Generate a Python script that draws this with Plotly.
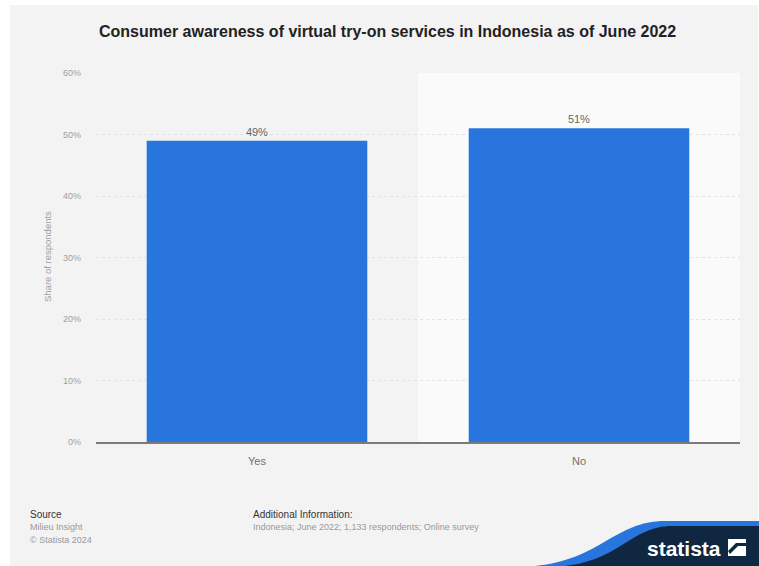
import plotly.graph_objects as go

# Survey answers and their shares (percent)
categories = ["Yes", "No"]
shares = [49, 51]
tick_values = [0, 10, 20, 30, 40, 50, 60]
tick_labels = ["0%", "10%", "20%", "30%", "40%", "50%", "60%"]

W, H = 759, 566
L, R, T, B = 96, 740, 73, 442  # plot area in pixels


def px(x):
    return (x - L) / (R - L)


def py(y):
    return (B - y) / (B - T)


fig = go.Figure()
fig.add_trace(go.Bar(
    x=categories,
    y=shares,
    marker=dict(color="#2876dd", line=dict(width=0)),
    width=0.685,
    text=[f"{v}%" for v in shares],
    textposition="outside",
    textfont=dict(family="Liberation Sans, Arial, sans-serif", size=11, color="#666666"),
    cliponaxis=False,
    hoverinfo="skip",
))

shapes = [
    # grey card behind the whole chart
    dict(type="rect", xref="paper", yref="paper", layer="below",
         x0=px(10), x1=px(758), y0=py(H), y1=py(5),
         fillcolor="#f3f3f3", line=dict(width=0)),
    # lighter band behind the second category
    dict(type="rect", xref="paper", yref="paper", layer="below",
         x0=0.5, x1=1.0, y0=0, y1=1,
         fillcolor="#fafafa", line=dict(width=0)),
]

# statista logo swoosh in the bottom-right corner
blue_path = (f"M {px(535)},{py(566)} C {px(600)},{py(560)} {px(615)},{py(521)} {px(665)},{py(521)} "
             f"L {px(759)},{py(521)} L {px(759)},{py(566)} Z")
navy_path = (f"M {px(565)},{py(566)} C {px(620)},{py(560)} {px(632)},{py(526)} {px(672)},{py(526)} "
             f"L {px(759)},{py(526)} L {px(759)},{py(566)} Z")
shapes.append(dict(type="path", xref="paper", yref="paper", path=blue_path,
                   fillcolor="#2876dd", line=dict(width=0)))
shapes.append(dict(type="path", xref="paper", yref="paper", path=navy_path,
                   fillcolor="#0f2740", line=dict(width=0)))
# logo mark
shapes.append(dict(type="rect", xref="paper", yref="paper",
                   x0=px(728), x1=px(746), y0=py(556), y1=py(539),
                   fillcolor="#ffffff", line=dict(width=0)))
mark_path = (f"M {px(728)},{py(551)} L {px(736)},{py(543)} L {px(746)},{py(543)} "
             f"L {px(746)},{py(546)} L {px(738)},{py(546)} L {px(730)},{py(554)} Z")
shapes.append(dict(type="path", xref="paper", yref="paper", path=mark_path,
                   fillcolor="#0f2740", line=dict(width=0)))

font = "Liberation Sans, Arial, sans-serif"
annotations = [
    dict(text="<b>Consumer awareness of virtual try-on services in Indonesia as of June 2022</b>",
         x=px(387), y=py(31), xref="paper", yref="paper", showarrow=False,
         xanchor="center", yanchor="middle",
         font=dict(family=font, size=16, color="#222222")),
    dict(text="Share of respondents", x=px(47), y=py(257), xref="paper", yref="paper",
         showarrow=False, textangle=-90, xanchor="center", yanchor="middle",
         font=dict(family=font, size=9.5, color="#a0a0a0")),
    dict(text="Source", x=px(28), y=py(514), xref="paper", yref="paper", showarrow=False,
         xanchor="left", yanchor="middle", font=dict(family=font, size=10, color="#333333")),
    dict(text="Milieu Insight", x=px(28), y=py(527), xref="paper", yref="paper", showarrow=False,
         xanchor="left", yanchor="middle", font=dict(family=font, size=9, color="#999999")),
    dict(text="© Statista 2024", x=px(28), y=py(540), xref="paper", yref="paper", showarrow=False,
         xanchor="left", yanchor="middle", font=dict(family=font, size=9, color="#999999")),
    dict(text="Additional Information:", x=px(251), y=py(514), xref="paper", yref="paper",
         showarrow=False, xanchor="left", yanchor="middle",
         font=dict(family=font, size=10, color="#333333")),
    dict(text="Indonesia; June 2022; 1,133 respondents; Online survey", x=px(251), y=py(527),
         xref="paper", yref="paper", showarrow=False, xanchor="left", yanchor="middle",
         font=dict(family=font, size=9, color="#999999")),
    dict(text="<b>statista</b>", x=px(723), y=py(548), xref="paper", yref="paper",
         showarrow=False, xanchor="right", yanchor="middle",
         font=dict(family="Liberation Sans Narrow, Liberation Sans, Arial, sans-serif",
                   size=21, color="#ffffff")),
]

fig.update_layout(
    width=W, height=H,
    margin=dict(l=L, r=W - R, t=T, b=H - B, pad=0),
    paper_bgcolor="#ffffff",
    plot_bgcolor="rgba(0,0,0,0)",
    showlegend=False,
    bargap=0.315,
    shapes=shapes,
    annotations=annotations,
    xaxis=dict(
        showgrid=False, showline=True, linecolor="#7a7a7a", linewidth=2,
        ticks="", ticklabelstandoff=8,
        tickfont=dict(family=font, size=11, color="#707070"),
        fixedrange=True,
    ),
    yaxis=dict(
        range=[0, 60], tickvals=tick_values, ticktext=tick_labels,
        showgrid=True, gridcolor="#e2e2e2", griddash="dot", gridwidth=1,
        zeroline=False, showline=False, ticks="", ticklabelstandoff=14,
        tickfont=dict(family=font, size=9, color="#a0a0a0"),
        fixedrange=True,
    ),
)

fig.write_html("out.html")
